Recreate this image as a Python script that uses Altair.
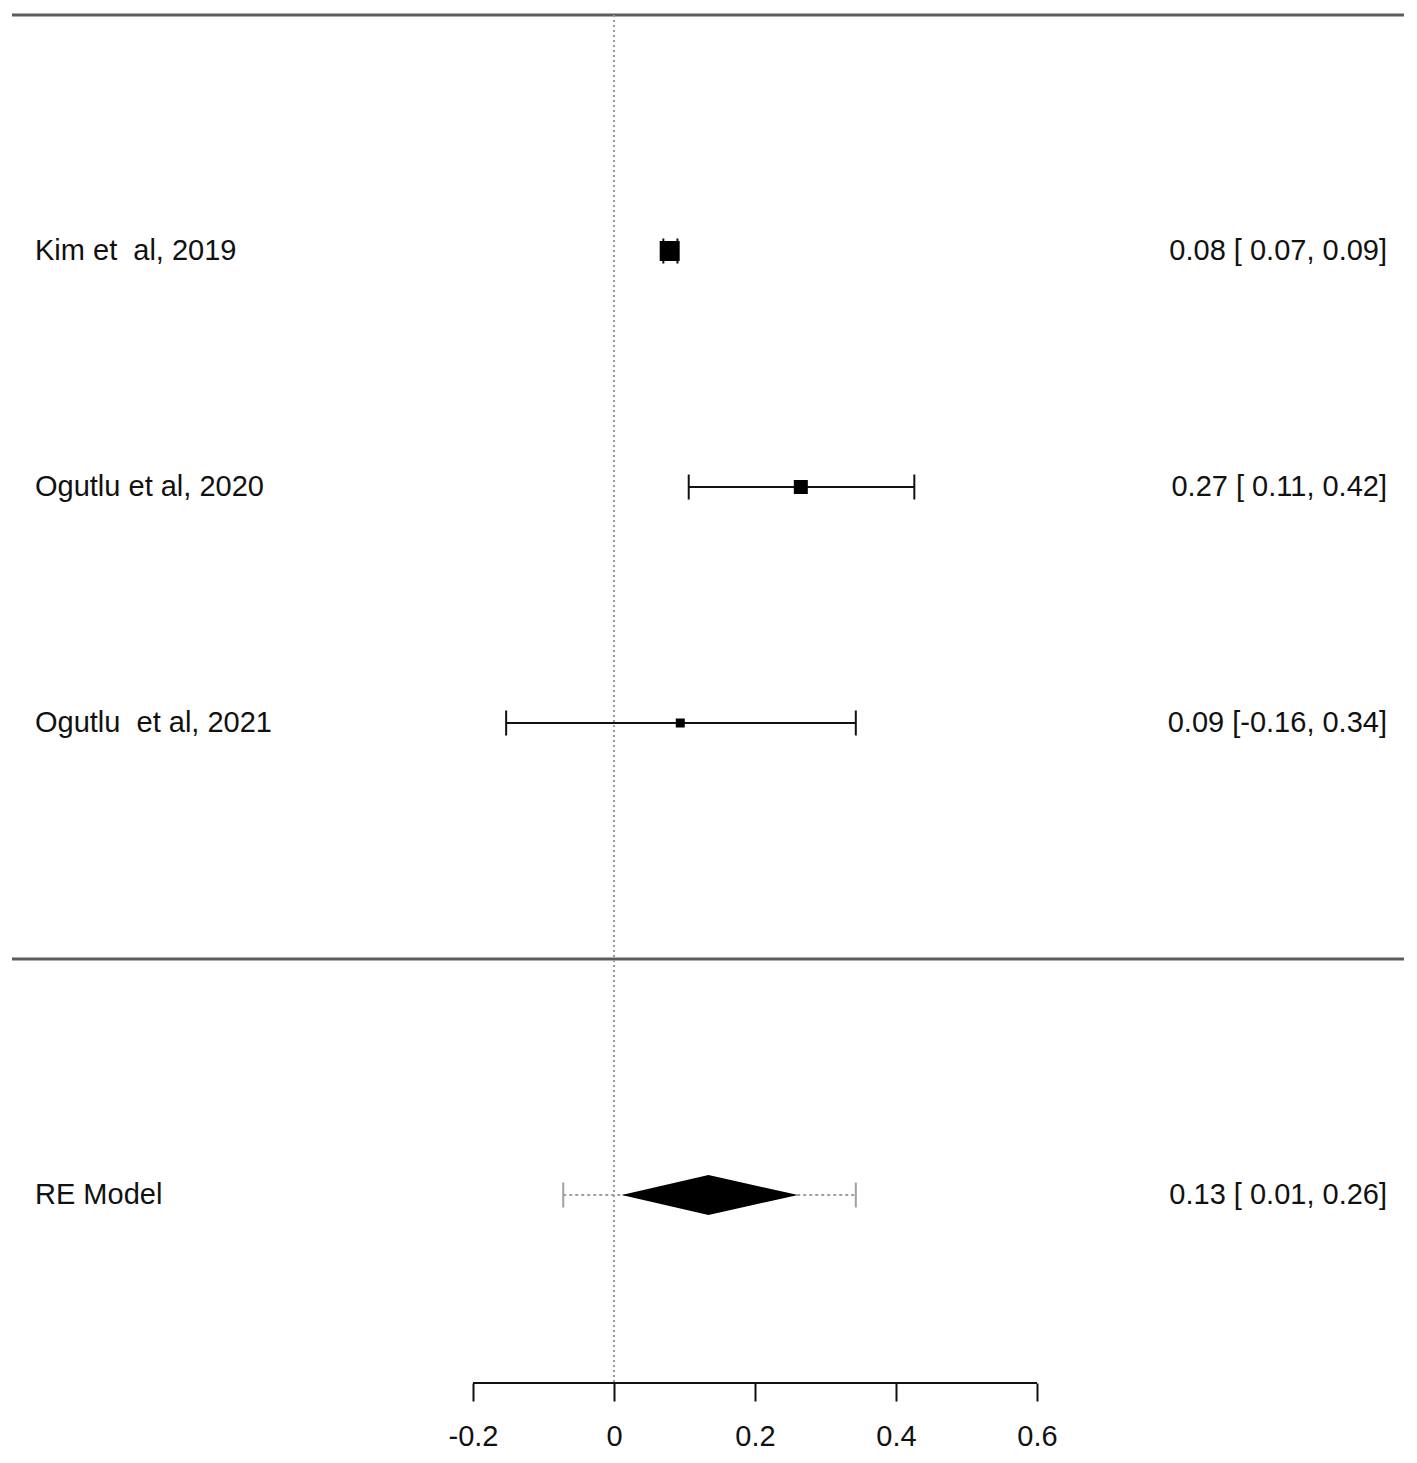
import altair as alt
import pandas as pd

# ---- data ----
studies = ["Kim et\u00a0 al, 2019", "Ogutlu et al, 2020", "Ogutlu\u00a0 et al, 2021"]
est = [0.079, 0.265, 0.094]
lower = [0.070, 0.106, -0.153]
upper = [0.090, 0.426, 0.343]
est_labels = ["0.08 [\u00a00.07, 0.09]", "0.27 [\u00a00.11, 0.42]", "0.09 [-0.16, 0.34]"]
rows = [3, 2, 1]

model_name = ["RE Model"]
model_est = [0.134]
model_lower = [0.011]
model_upper = [0.261]
model_pi_lower = [-0.072]
model_pi_upper = [0.343]
model_label = ["0.13 [\u00a00.01, 0.26]"]
model_row = [-1]

tick_values = [-0.2, 0.0, 0.2, 0.4, 0.6]

# ---- layout / style constants ----
W, H = 1401, 1375
X_DOM = [-0.8596, 1.1277]
Y_DOM = [-1.7966, 4.0297]
marker_px = [20, 14, 9]
CAP = 0.053          # half-height of CI end caps (row units)
DIA = 0.085          # half-height of summary diamond
LINE_X = [-0.854, 1.1206]
LEFT_X = -0.8213
RIGHT_X = 1.0965
FONT = "Liberation Sans"
FS = 29

xs = alt.Scale(domain=X_DOM, nice=False, zero=False)
ys = alt.Scale(domain=Y_DOM, nice=False, zero=False)

studies_df = pd.DataFrame({
    "study": studies, "est": est, "lb": lower, "ub": upper,
    "lab": est_labels, "row": rows,
    "size": [p * p for p in marker_px],
})
caps_df = pd.DataFrame({
    "x": lower + upper,
    "y1": [r + CAP for r in rows] * 2,
    "y2": [r - CAP for r in rows] * 2,
})
model_df = pd.DataFrame({
    "name": model_name, "est": model_est, "lb": model_lower, "ub": model_upper,
    "pil": model_pi_lower, "piu": model_pi_upper, "lab": model_label, "row": model_row,
})
pi_caps_df = pd.DataFrame({
    "x": model_pi_lower + model_pi_upper,
    "y1": [model_row[0] + CAP] * 2,
    "y2": [model_row[0] - CAP] * 2,
})
diamond_df = pd.DataFrame({
    "x": [model_lower[0], model_est[0], model_upper[0]],
    "ytop": [model_row[0], model_row[0] + DIA, model_row[0]],
    "ybot": [model_row[0], model_row[0] - DIA, model_row[0]],
})
hlines_df = pd.DataFrame({"row": [len(studies) + 1, 0], "x1": [LINE_X[0]] * 2, "x2": [LINE_X[1]] * 2})

label_expr = ("datum.value == 0 ? '0' : (datum.value < 0 ? '-' + format(-datum.value, '.1f') "
              ": format(datum.value, '.1f'))")

x_axis = alt.Axis(values=tick_values, labelExpr=label_expr, domain=False, grid=False,
                  ticks=True, tickColor="#111", tickWidth=2, tickSize=18,
                  labelFont=FONT, labelFontSize=FS, labelColor="#111",
                  labelPadding=21, title=None, labelFlush=False, labelOverlap=False)

# horizontal separator lines
hlines = alt.Chart(hlines_df).mark_rule(color="#5c5c5c", strokeWidth=3).encode(
    x=alt.X("x1:Q", scale=xs, axis=x_axis),
    x2="x2:Q",
    y=alt.Y("row:Q", scale=ys, axis=None),
)

# dotted reference line at 0
zero_line = alt.Chart(pd.DataFrame({"x": [0.0]})).mark_rule(
    color="#9a9a9a", strokeWidth=2, strokeDash=[2, 3]
).encode(
    x=alt.X("x:Q", scale=xs),
    y=alt.datum(len(studies) + 1, scale=ys),
    y2=alt.datum(Y_DOM[0]),
)

# study CIs
ci = alt.Chart(studies_df).mark_rule(color="#111", strokeWidth=2).encode(
    x=alt.X("lb:Q", scale=xs), x2="ub:Q", y=alt.Y("row:Q", scale=ys),
)
caps = alt.Chart(caps_df).mark_rule(color="#111", strokeWidth=2).encode(
    x=alt.X("x:Q", scale=xs), y=alt.Y("y1:Q", scale=ys), y2="y2:Q",
)
points = alt.Chart(studies_df).mark_square(color="#000", opacity=1, filled=True).encode(
    x=alt.X("est:Q", scale=xs), y=alt.Y("row:Q", scale=ys),
    size=alt.Size("size:Q", scale=None, legend=None),
)

# prediction interval
pi_line = alt.Chart(model_df).mark_rule(color="#a0a0a0", strokeWidth=2, strokeDash=[3, 3]).encode(
    x=alt.X("pil:Q", scale=xs), x2="piu:Q", y=alt.Y("row:Q", scale=ys),
)
pi_caps = alt.Chart(pi_caps_df).mark_rule(color="#a0a0a0", strokeWidth=2).encode(
    x=alt.X("x:Q", scale=xs), y=alt.Y("y1:Q", scale=ys), y2="y2:Q",
)
diamond = alt.Chart(diamond_df).mark_area(color="#000", opacity=1, orient="vertical").encode(
    x=alt.X("x:Q", scale=xs), y=alt.Y("ytop:Q", scale=ys), y2="ybot:Q",
)

# text
left_text = alt.Chart(studies_df).mark_text(
    align="left", baseline="middle", font=FONT, fontSize=FS, color="#111"
).encode(x=alt.datum(LEFT_X, scale=xs), y=alt.Y("row:Q", scale=ys), text="study:N")
right_text = alt.Chart(studies_df).mark_text(
    align="right", baseline="middle", font=FONT, fontSize=FS, color="#111"
).encode(x=alt.datum(RIGHT_X, scale=xs), y=alt.Y("row:Q", scale=ys), text="lab:N")
model_left = alt.Chart(model_df).mark_text(
    align="left", baseline="middle", font=FONT, fontSize=FS, color="#111"
).encode(x=alt.datum(LEFT_X, scale=xs), y=alt.Y("row:Q", scale=ys), text="name:N")
model_right = alt.Chart(model_df).mark_text(
    align="right", baseline="middle", font=FONT, fontSize=FS, color="#111"
).encode(x=alt.datum(RIGHT_X, scale=xs), y=alt.Y("row:Q", scale=ys), text="lab:N")

# x axis line spanning the ticks
axis_line = alt.Chart(pd.DataFrame({"a": [min(tick_values)], "b": [max(tick_values)]})).mark_rule(
    color="#111", strokeWidth=2
).encode(x=alt.X("a:Q", scale=xs), x2="b:Q", y=alt.datum(Y_DOM[0], scale=ys))

chart = alt.layer(
    hlines, zero_line, pi_line, pi_caps, diamond, ci, caps, points,
    left_text, right_text, model_left, model_right, axis_line,
).properties(
    width=W, height=H,
    autosize=alt.AutoSizeParams(type="none"),
    padding={"left": 0, "top": 0, "right": 0, "bottom": 72},
    background="white",
).configure_view(stroke=None)

chart.save("out.html", embed_options={"renderer": "svg", "actions": False})
